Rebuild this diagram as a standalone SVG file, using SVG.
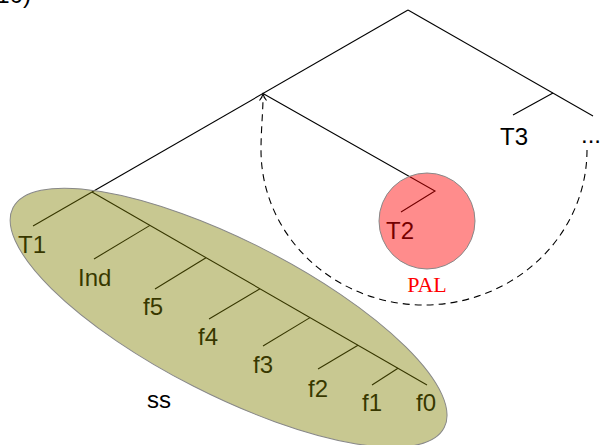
<svg xmlns="http://www.w3.org/2000/svg" width="602" height="445" viewBox="0 0 602 445">
<style>
.e{stroke:#000;stroke-width:1.1;fill:none}
.lbl{font-family:"Liberation Sans",Arial,sans-serif;font-size:24px;fill:#000}
.pal{font-family:"Liberation Serif","Times New Roman",serif;font-size:22px;fill:#ff0000}
</style>
<rect width="602" height="445" fill="#fff"/>
<text class="lbl" x="31" y="3" text-anchor="end">10)</text>
<g id="connectors">
<path class="e" d="M408 10 L92 192"/>
<path class="e" d="M408 10 L593 116"/>
<path class="e" d="M553 93 L513 115"/>
<path class="e" d="M263 93.5 L435 191 L401 212"/>
<path class="e" d="M92 192 L33 226"/>
<path class="e" d="M92 192 L427 385"/>
<path class="e" d="M150 225.4 L94 259"/>
<path class="e" d="M206 257.7 L155 289"/>
<path class="e" d="M260 288.8 L209 319"/>
<path class="e" d="M310 317.6 L263 346"/>
<path class="e" d="M358 345.2 L318 369"/>
<path class="e" d="M398 368.3 L372 385"/>
<path class="e" d="M587 150 A163 155 0 0 1 261 150 C261 130 263 112 263 97" stroke-dasharray="7 5"/>
<path class="e" d="M259.5 100.5 Q262 97.5 263 94 Q264 97.5 266.5 100.5"/>
</g>
<g id="node-T1"><text class="lbl" x="18" y="253">T1</text></g>
<g id="node-Ind"><text class="lbl" x="78" y="286">Ind</text></g>
<g id="node-f5"><text class="lbl" x="143" y="315">f5</text></g>
<g id="node-f4"><text class="lbl" x="198" y="345">f4</text></g>
<g id="node-f3"><text class="lbl" x="253" y="373">f3</text></g>
<g id="node-f2"><text class="lbl" x="308" y="397">f2</text></g>
<g id="node-f1"><text class="lbl" x="362" y="411">f1</text></g>
<g id="node-f0"><text class="lbl" x="416" y="411">f0</text></g>
<g id="node-T2"><text class="lbl" x="386" y="239">T2</text></g>
<g id="node-T3"><text class="lbl" x="500" y="145">T3</text></g>
<g id="node-dots"><text class="lbl" x="581" y="143">...</text></g>
<g id="node-ss"><text class="lbl" x="147" y="408">ss</text></g>
<g id="ellipse-ss"><ellipse cx="228.6" cy="317.7" rx="242" ry="77" transform="rotate(27 228.6 317.7)" fill="#808000" fill-opacity="0.43" stroke="#888" stroke-width="1"/></g>
<g id="circle-PAL"><circle cx="427" cy="221" r="48" fill="#ff0000" fill-opacity="0.45" stroke="#888" stroke-width="1"/></g>
<g id="node-PAL"><text class="pal" x="427" y="292" text-anchor="middle">PAL</text></g>
</svg>
